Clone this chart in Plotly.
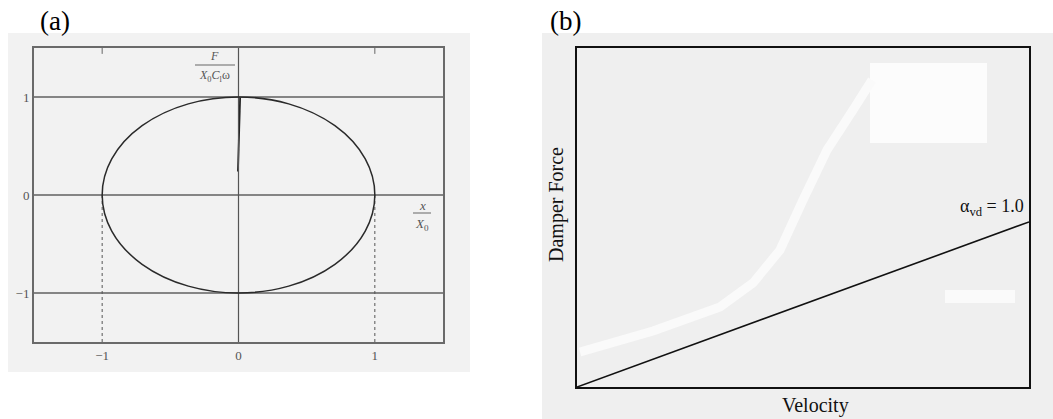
import plotly.graph_objects as go

W, H = 1053, 419

# ---- panel (a): hysteresis loop of a linear viscous damper ----
amp_x = 1.0          # x / X0 amplitude
amp_f = 1.0          # F / (X0 C omega) amplitude
a_ticks = [-1, 0, 1]
a_ticktext = ["\u22121", "0", "1"]
a_hlines = [-1, 0, 1]
a_dotted = [-1, 1]
# short start-up stroke below the loop's top point
start_x = [0.012, -0.004]
start_y = [1.0, 0.24]

# ---- panel (b): force-velocity relation ----
alpha_vd = 1.0
velocity = [0.0, 0.25, 0.5, 0.75, 1.0]
force = [0.0, 0.122, 0.244, 0.366, 0.487]

SERIF = "Liberation Serif, Times New Roman, serif"


def px(x):
    return x / W


def py(y):
    return 1 - y / H


def label(text, x, y, size, color="#111", **kw):
    return dict(text=text, x=px(x), y=py(y), xref="paper", yref="paper",
                xanchor="center", yanchor="middle", showarrow=False,
                font=dict(family=SERIF, size=size, color=color), **kw)


fig = go.Figure()

fig.add_trace(go.Scatter(x=start_x, y=start_y, mode="lines",
                         line=dict(color="#222", width=1.8),
                         xaxis="x", yaxis="y", showlegend=False,
                         hoverinfo="skip"))
fig.add_trace(go.Scatter(x=velocity, y=force, mode="lines",
                         line=dict(color="#111", width=1.6),
                         xaxis="x2", yaxis="y2", showlegend=False))

shapes = []
# scanned page backgrounds
shapes.append(dict(type="rect", xref="paper", yref="paper", layer="below",
                   x0=px(8), x1=px(470), y0=py(372), y1=py(33),
                   fillcolor="#f2f2f2", line=dict(width=0)))
shapes.append(dict(type="rect", xref="paper", yref="paper", layer="below",
                   x0=px(542), x1=px(1053), y0=py(419), y1=py(33),
                   fillcolor="#efefef", line=dict(width=0)))
# lighter streaks in panel (b)
shapes.append(dict(type="rect", xref="paper", yref="paper", layer="below",
                   x0=px(870), x1=px(987), y0=py(143), y1=py(63),
                   fillcolor="#fcfcfc", line=dict(width=0)))
band = [(580, 352), (653, 331), (720, 307), (753, 283), (780, 250),
        (803, 200), (827, 150), (853, 110), (872, 80)]
path = "M " + " L ".join(f"{px(x):.5f},{py(y):.5f}" for x, y in band)
shapes.append(dict(type="path", xref="paper", yref="paper", layer="below",
                   path=path, line=dict(color="#fafafa", width=9)))
shapes.append(dict(type="rect", xref="paper", yref="paper", layer="below",
                   x0=px(945), x1=px(1015), y0=py(303), y1=py(290),
                   fillcolor="#fafafa", line=dict(width=0)))

# panel (a) reference lines
for yv in a_hlines:
    shapes.append(dict(type="line", xref="x", yref="y", x0=-1.5, x1=1.5,
                       y0=yv, y1=yv, line=dict(color="#606060", width=1.7)))
shapes.append(dict(type="line", xref="x", yref="y", x0=0, x1=0,
                   y0=-1.5, y1=1.5, line=dict(color="#555", width=1.2)))
for xv in a_dotted:
    shapes.append(dict(type="line", xref="x", yref="y", x0=xv, x1=xv,
                       y0=0, y1=-1.5,
                       line=dict(color="#555", width=1, dash="dot")))
    shapes.append(dict(type="line", xref="x", yref="y", x0=xv, x1=xv,
                       y0=1.5, y1=1.44, line=dict(color="#666", width=1)))
# the loop itself
shapes.append(dict(type="circle", xref="x", yref="y",
                   x0=-amp_x, x1=amp_x, y0=-amp_f, y1=amp_f,
                   line=dict(color="#2a2a2a", width=1.5)))

# fraction bars for the axis labels of panel (a)
shapes.append(dict(type="line", xref="paper", yref="paper",
                   x0=px(195), x1=px(235), y0=py(65), y1=py(65),
                   line=dict(color="#666", width=1)))
shapes.append(dict(type="line", xref="paper", yref="paper",
                   x0=px(413), x1=px(431), y0=py(213), y1=py(213),
                   line=dict(color="#666", width=1)))

annotations = [
    label("(a)", 55, 21, 27, "#000"),
    label("(b)", 565, 21, 27, "#000"),
    label("<i>F</i>", 214, 56, 12, "#555"),
    label("<i>X</i><sub>0</sub><i>C</i><sub>l</sub>\u03c9", 214, 76, 12,
          "#555"),
    label("<i>x</i>", 422, 205, 13, "#555"),
    label("<i>X</i><sub>0</sub>", 422, 224, 13, "#555"),
    dict(text=f"\u03b1<sub>vd</sub> = {alpha_vd:.1f}", x=velocity[-1],
         y=force[-1], xref="x2", yref="y2", xanchor="right",
         yanchor="bottom", xshift=-3, yshift=1, showarrow=False,
         font=dict(family=SERIF, size=18, color="#111")),
    label("Damper Force", 556, 205, 20, textangle=-90),
    label("Velocity", 815, 405, 20),
]

fig.update_layout(
    width=W, height=H,
    margin=dict(l=0, r=0, t=0, b=0),
    paper_bgcolor="#ffffff",
    plot_bgcolor="rgba(0,0,0,0)",
    showlegend=False,
    shapes=shapes,
    annotations=annotations,
    xaxis=dict(domain=[px(34), px(443)], range=[-1.5, 1.5],
               tickvals=a_ticks, ticktext=a_ticktext, ticks="",
               showgrid=False, zeroline=False, showline=True, mirror=True,
               linecolor="#6a6a6a", linewidth=2,
               tickfont=dict(family=SERIF, size=13, color="#555")),
    yaxis=dict(domain=[py(342), py(48)], range=[-1.5, 1.5],
               tickvals=a_ticks, ticktext=a_ticktext, ticks="",
               showgrid=False, zeroline=False, showline=True, mirror=True,
               linecolor="#6a6a6a", linewidth=2,
               tickfont=dict(family=SERIF, size=13, color="#555")),
    xaxis2=dict(domain=[px(577), px(1029)], range=[0, 1], anchor="y2",
                showticklabels=False, ticks="", showgrid=False,
                zeroline=False, showline=True, mirror=True,
                linecolor="#111", linewidth=2),
    yaxis2=dict(domain=[py(387), py(48)], range=[0, 1], anchor="x2",
                showticklabels=False, ticks="", showgrid=False,
                zeroline=False, showline=True, mirror=True,
                linecolor="#111", linewidth=2),
)

fig.write_html("out.html")
